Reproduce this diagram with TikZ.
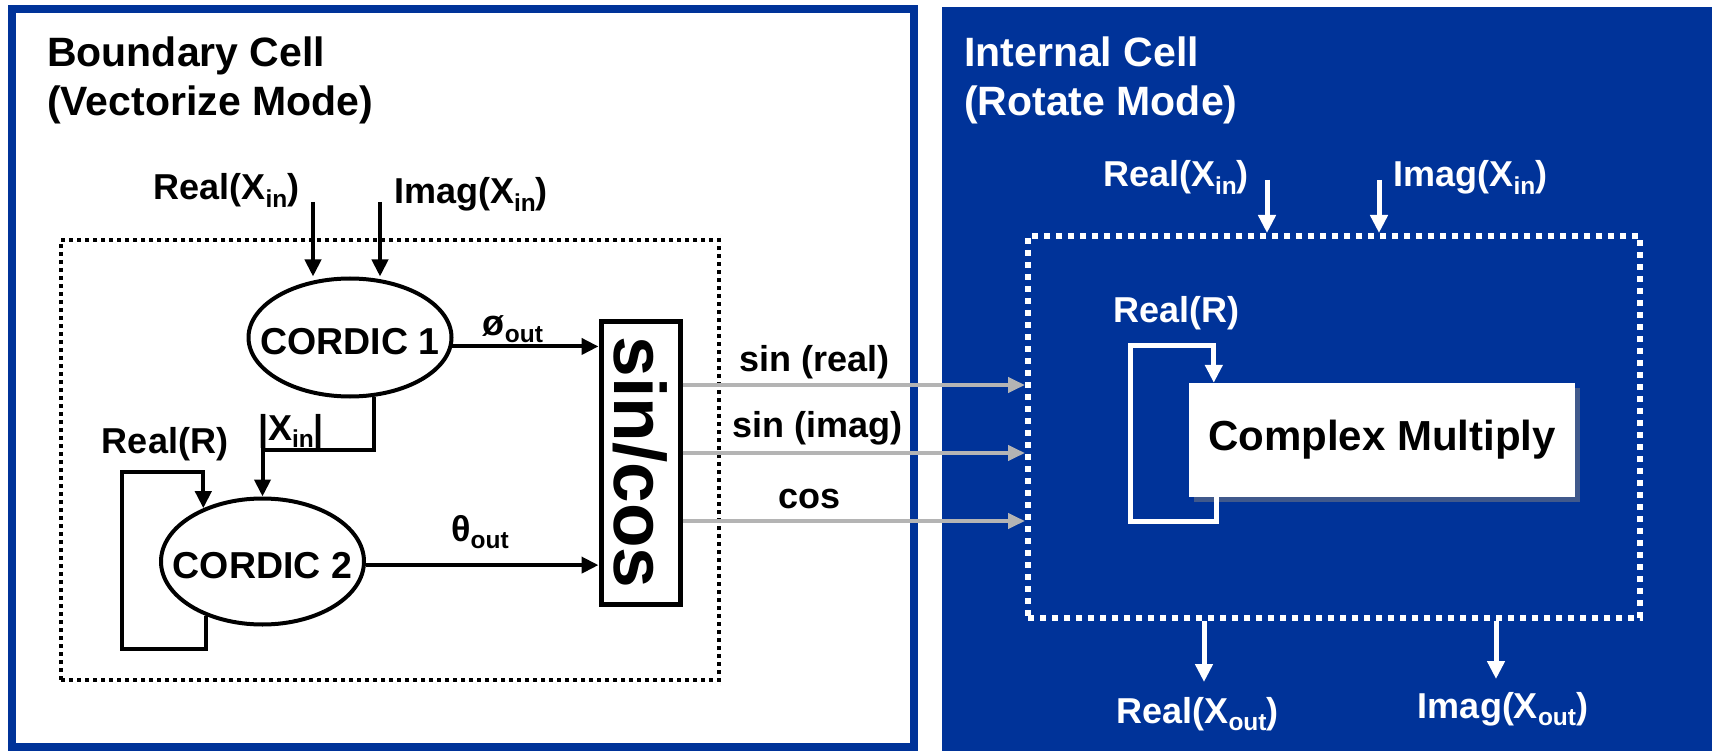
\documentclass[tikz,border=0pt]{standalone}
\usepackage{fontspec}
\setmainfont{Liberation Sans}
\usepackage{graphicx}
\usetikzlibrary{arrows.meta,positioning,shapes.geometric,shadows,calc}

\definecolor{cellblue}{RGB}{0,51,153}
\definecolor{feedgray}{RGB}{180,180,180}
\newcommand{\lowsub}[1]{\raisebox{-0.22em}{\scalebox{0.68}{#1}}}

\begin{document}
\begin{tikzpicture}[
    x=1pt, y=-1pt,
    lbl/.style={font=\bfseries\fontsize{36}{40}\selectfont, inner sep=0pt, anchor=base},
    celltitle/.style={font=\bfseries\fontsize{41}{49}\selectfont, align=left,
                      inner sep=0pt, anchor=base west},
    cordic/.style={ellipse, draw=black, line width=4pt, fill=white,
                   minimum width=203pt, minimum height=118pt, inner sep=0pt,
                   label={[font=\bfseries\fontsize{37.5}{40}\selectfont, yshift=-4pt]center:#1}},
    trig/.style={rectangle, draw=black, line width=5pt, fill=white,
                 minimum width=79pt, minimum height=283pt, inner sep=0pt,
                 font=\bfseries\fontsize{73}{80}\selectfont},
    mult/.style={rectangle, fill=white, minimum width=386pt, minimum height=114pt,
                 inner sep=0pt, drop shadow={shadow xshift=5pt, shadow yshift=-5pt},
                 font=\bfseries\fontsize{42}{46}\selectfont},
    dotbox/.style={rectangle, draw=black, line width=4pt, dash pattern=on 4pt off 4pt},
    wdotbox/.style={rectangle, draw=white, line width=6pt, dash pattern=on 6pt off 6pt},
    arrow/.style={-{Triangle[length=17pt, width=16pt]}, line width=4pt},
    warrow/.style={-{Triangle[length=18pt, width=17pt]}, line width=5pt, draw=white},
    feed/.style={-{Triangle[length=17pt, width=15pt]}, line width=4pt, draw=feedgray}
]
    \useasboundingbox (0,0) rectangle (1713,751);

    % boundary cell
    \draw[cellblue, line width=8pt] (12,9) rectangle (914,747);
    \node[celltitle] (btitle) at (47,116) {Boundary Cell\\(Vectorize Mode)};
    \node[dotbox, minimum width=658pt, minimum height=440pt] (lbox) at (390,460) {};

    \node[lbl] (lrx) at (226.5,200) {Real(X\lowsub{in})};
    \node[lbl] (lix) at (471,204) {Imag(X\lowsub{in})};
    \coordinate (lrxin) at (313,202);
    \coordinate (lixin) at (380,202);

    \node[cordic={CORDIC 1}] (c1) at (350,337.5) {};
    \node[cordic={CORDIC 2}, minimum height=126pt] (c2) at (262.5,561.5) {};
    \node[trig] (sincos) at (640.5,462.5) {\rotatebox{-90}{sin/cos}};

    \draw[arrow] (lrxin) -- (lrxin |- c1.north);
    \draw[arrow] (lixin) -- (lixin |- c1.north);

    \draw[arrow] (c1.-5) -- (c1.-5 -| sincos.west);
    \node[lbl] (phiout) at (513,335) {ø\lowsub{out}};
    \draw[arrow] (c2.-2) -- (c2.-2 -| sincos.west);
    \node[lbl] (thout) at (480,541) {θ\lowsub{out}};

    \coordinate (xbend) at (262.5,450);
    \draw[arrow] (c1.-68) |- (xbend) -- (c2.north);
    \node[lbl] (mag) at (291,440) {|X\lowsub{in}|};

    \coordinate (rlow) at (122,649);
    \coordinate (rhigh) at (122,472);
    \draw[arrow] (c2.224) |- (rlow) -- (rhigh) -| (c2.138);
    \node[lbl] (lrr) at (165,453) {Real(R)};

    % internal cell
    \fill[cellblue] (942,7) rectangle (1712,751);
    \node[celltitle, text=white] (ititle) at (964,116) {Internal Cell\\(Rotate Mode)};
    \node[wdotbox, minimum width=612pt, minimum height=382pt] (rbox) at (1334,427) {};

    \node[lbl, text=white] (rrx) at (1176,187) {Real(X\lowsub{in})};
    \node[lbl, text=white] (rix) at (1470.5,187) {Imag(X\lowsub{in})};
    \coordinate (rrxin) at (1267,180);
    \coordinate (rixin) at (1379,180);
    \draw[warrow] (rrxin) -- (rrxin |- rbox.north);
    \draw[warrow] (rixin) -- (rixin |- rbox.north);

    \coordinate (wlow) at (1130,521);
    \coordinate (whigh) at (1130,345);
    \node[mult] (cmul) at (1382,440) {Complex Multiply};
    \draw[warrow] ($(cmul.south west)+(28,0)$) |- (wlow) -- (whigh) -| ($(cmul.north west)+(25,0)$);
    \node[lbl, text=white] (rrr) at (1176.5,323) {Real(R)};

    \coordinate (rxout) at (1204,682);
    \coordinate (ixout) at (1496,679);
    \draw[warrow] (rbox.south -| rxout) -- (rxout);
    \draw[warrow] (rbox.south -| ixout) -- (ixout);
    \node[lbl, text=white] (rxo) at (1197.5,723) {Real(X\lowsub{out})};
    \node[lbl, text=white] (ixo) at (1503,718) {Imag(X\lowsub{out})};

    % sin/cos feeds into the rotator
    \foreach \yy/\txt/\xx/\bb in {385/{sin (real)}/814.5/371, 453/{sin (imag)}/817.5/437, 521/{cos}/809.5/508} {
        \draw[feed] (sincos.east |- 0,\yy) -- (rbox.west |- 0,\yy);
        \node[lbl] (f\yy) at (\xx,\bb) {\txt};
    }
\end{tikzpicture}
\end{document}
